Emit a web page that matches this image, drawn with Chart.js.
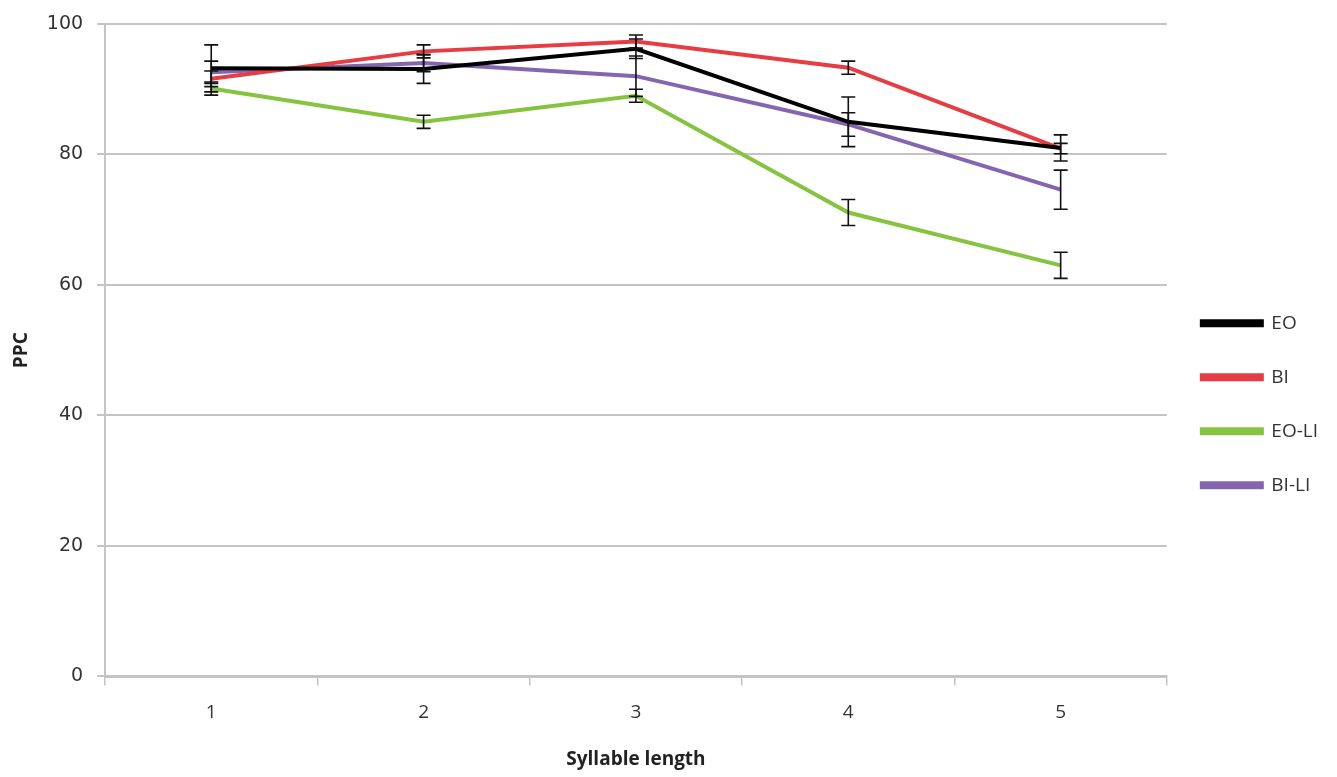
<!DOCTYPE html>
<html>
<head>
<meta charset="utf-8">
<title>PPC by syllable length</title>
<script src="https://cdn.jsdelivr.net/npm/chart.js@4.4.1/dist/chart.umd.min.js"></script>
<style>
    body { margin: 0; background: #fff; }
    canvas { display: block; }
</style>
</head>
<body>
<canvas id="chart" width="1337" height="777"></canvas>
<script>
const syllableLengths = ['1', '2', '3', '4', '5']

const eoValues = [93.2, 93.1, 96.2, 85.0, 81.0]
const biValues = [91.6, 95.8, 97.3, 93.3, 80.9]
const eoLiValues = [90.1, 85.0, 89.0, 71.1, 63.0]
const biLiValues = [92.6, 94.0, 92.0, 84.6, 74.6]

const eoErrors = [3.6, 2.2, 1.5, 3.8, 2.0]
const biErrors = [1.2, 1.0, 1.0, 1.0, 0.8]
const eoLiErrors = [1.0, 1.0, 1.0, 2.0, 2.0]
const biLiErrors = [1.7, 1.3, 3.1, 1.8, 3.0]

// excel style error bars, drawn from the scales
const errorBars = {
    id: 'errorBars',
    afterDatasetsDraw(chart) {
        const ctx = chart.ctx
        const x = chart.scales.x
        const y = chart.scales.y
        ctx.save()
        ctx.strokeStyle = '#111'
        ctx.lineWidth = 1.6
        chart.data.datasets.forEach((ds) => {
            ds.errors.forEach((err, i) => {
                const px = x.getPixelForValue(i)
                const top = y.getPixelForValue(ds.data[i] + err)
                const bottom = y.getPixelForValue(ds.data[i] - err)
                ctx.beginPath()
                ctx.moveTo(px, top)
                ctx.lineTo(px, bottom)
                ctx.moveTo(px - 7, top)
                ctx.lineTo(px + 7, top)
                ctx.moveTo(px - 7, bottom)
                ctx.lineTo(px + 7, bottom)
                ctx.stroke()
            })
        })
        ctx.restore()
    }
}

function makeSeries(label, values, errors, color) {
    return {
        label: label,
        data: values,
        errors: errors,
        borderColor: color,
        backgroundColor: color,
        borderWidth: 4,
        pointRadius: 0,
        tension: 0
    }
}

const gridColor = '#c4c4c4'

new Chart(document.getElementById('chart'), {
    type: 'line',
    data: {
        labels: syllableLengths,
        datasets: [
            makeSeries('EO', eoValues, eoErrors, '#000000'),
            makeSeries('BI', biValues, biErrors, '#e63c44'),
            makeSeries('EO-LI', eoLiValues, eoLiErrors, '#86c440'),
            makeSeries('BI-LI', biLiValues, biLiErrors, '#8466b0')
        ]
    },
    options: {
        responsive: false,
        animation: false,
        layout: {
            padding: {left: 0, right: 9, top: 11, bottom: 6}
        },
        plugins: {
            legend: {
                position: 'right',
                title: {
                    display: true,
                    text: ' ',
                    padding: {top: 0, bottom: 12}
                },
                labels: {
                    boxWidth: 60,
                    boxHeight: 4,
                    padding: 35,
                    color: '#333',
                    font: {family: 'Open Sans', size: 19}
                }
            },
            tooltip: {enabled: false}
        },
        scales: {
            x: {
                offset: true,
                grid: {
                    offset: true,
                    drawOnChartArea: false,
                    color: gridColor,
                    tickLength: 9,
                    lineWidth: 1.5
                },
                border: {color: gridColor, width: 3},
                ticks: {
                    color: '#333',
                    padding: 16,
                    font: {family: 'Open Sans', size: 19}
                },
                title: {
                    display: true,
                    text: 'Syllable length',
                    color: '#222',
                    padding: {top: 8, bottom: 0},
                    font: {family: 'Open Sans', size: 19, weight: 'bold'}
                }
            },
            y: {
                min: 0,
                max: 100,
                ticks: {
                    stepSize: 20,
                    color: '#333',
                    padding: 14,
                    font: {family: 'DejaVu Sans', size: 19, lineHeight: 1.05}
                },
                grid: {
                    color: gridColor,
                    lineWidth: 2,
                    tickLength: 8
                },
                border: {color: gridColor, width: 2},
                title: {
                    display: true,
                    text: 'PPC',
                    color: '#222',
                    padding: {top: 10, bottom: 0},
                    font: {family: 'Open Sans', size: 19, weight: 'bold'}
                }
            }
        }
    },
    plugins: [errorBars]
})
</script>
</body>
</html>
